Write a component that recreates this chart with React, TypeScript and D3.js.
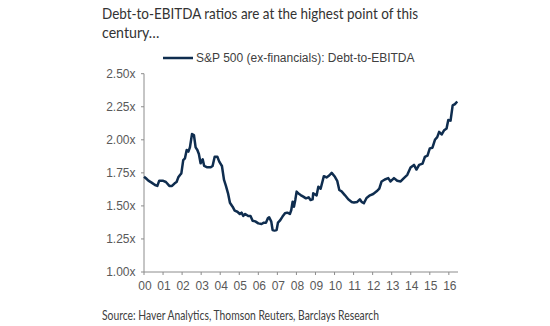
import React from "react";
import * as d3 from "d3";

const titleLines = ["Debt-to-EBITDA ratios are at the highest point of this", "century…"];
const legendLabel = "S&P 500 (ex-financials): Debt-to-EBITDA";
const sourceText = "Source: Haver Analytics, Thomson Reuters, Barclays Research";

const yTicks = [1.0, 1.25, 1.5, 1.75, 2.0, 2.25, 2.5];
const xTickLabels = ["00", "01", "02", "03", "04", "05", "06", "07", "08", "09", "10", "11", "12", "13", "14", "15", "16"];

// years since 2000
const years = [
  0.0, 0.1, 0.23, 0.4, 0.58, 0.7, 0.8, 0.98, 1.15, 1.33, 1.47, 1.61, 1.71, 1.8, 1.89, 1.96,
  2.06, 2.15, 2.24, 2.33, 2.41, 2.52, 2.62, 2.71, 2.8, 2.88, 2.97, 3.08, 3.16, 3.32, 3.5, 3.6,
  3.71, 3.85, 3.95, 4.09, 4.2, 4.3, 4.41, 4.51, 4.65, 4.76, 4.9, 5.03, 5.12, 5.21, 5.31, 5.47,
  5.59, 5.7, 5.84, 6.0, 6.17, 6.29, 6.4, 6.5, 6.57, 6.68, 6.75, 6.85, 6.96, 7.03, 7.13, 7.27,
  7.4, 7.52, 7.66, 7.73, 7.8, 7.87, 7.94, 8.01, 8.09, 8.22, 8.36, 8.5, 8.64, 8.74, 8.85,
  8.88, 9.06, 9.15, 9.27, 9.44, 9.58, 9.72, 9.85, 10.02, 10.14, 10.25, 10.37, 10.55, 10.72,
  10.9, 11.02, 11.19, 11.33, 11.42, 11.54, 11.68, 11.86, 12.03, 12.21, 12.35, 12.47, 12.64,
  12.82, 12.94, 13.12, 13.29, 13.47, 13.64, 13.82, 13.99, 14.17, 14.3, 14.44, 14.62, 14.74,
  14.88, 15.0, 15.14, 15.27, 15.39, 15.49, 15.62, 15.74, 15.88, 15.97, 16.09, 16.2, 16.32, 16.44,
];
const ratios = [
  1.721, 1.709, 1.691, 1.676, 1.658, 1.651, 1.691, 1.691, 1.681, 1.651, 1.651, 1.671, 1.681, 1.716, 1.734, 1.746,
  1.847, 1.86, 1.923, 1.91, 1.943, 2.044, 2.036, 1.943, 1.923, 1.893, 1.822, 1.852, 1.802, 1.792, 1.792, 1.802,
  1.872, 1.872, 1.835, 1.802, 1.696, 1.651, 1.595, 1.524, 1.494, 1.464, 1.456, 1.439, 1.449, 1.424, 1.439, 1.424,
  1.424, 1.388, 1.383, 1.368, 1.363, 1.373, 1.373, 1.406, 1.414, 1.381, 1.318, 1.313, 1.318, 1.373, 1.388, 1.419,
  1.444, 1.449, 1.439, 1.469, 1.532, 1.494, 1.545, 1.608, 1.595, 1.582, 1.57, 1.557, 1.565, 1.545, 1.55,
  1.595, 1.58, 1.645, 1.63, 1.725, 1.715, 1.73, 1.75, 1.72, 1.69, 1.62, 1.61, 1.58, 1.55,
  1.53, 1.525, 1.53, 1.55, 1.53, 1.52, 1.56, 1.58, 1.59, 1.61, 1.63, 1.685, 1.7,
  1.71, 1.685, 1.71, 1.69, 1.685, 1.71, 1.735, 1.79, 1.81, 1.775, 1.81, 1.82, 1.87,
  1.88, 1.935, 1.94, 2.0, 2.02, 2.06, 2.04, 2.07, 2.085, 2.15, 2.145, 2.26, 2.27, 2.29,
];

const LINE = "#0f2d4f";
const AXIS = "#8c8c8c";
const LABEL = "#595959";

export default function App() {
  const x = d3.scaleLinear().domain([0, 16.48]).range([144, 458]);
  const y = d3.scaleLinear().domain([1, 2.5]).range([272, 73.7]);
  const pts: [number, number][] = years.map((yr, i) => [yr, ratios[i]]);
  const line = d3
    .line<[number, number]>()
    .x((d) => x(d[0]))
    .y((d) => y(d[1]));

  return (
    <svg
      width={550}
      height={326}
      style={{ position: "absolute", left: 0, top: 0, background: "#fff" }}
    >
      <text x={102} y={18.5} fontFamily="Lato, sans-serif" fontSize={15} fill="#333"
        textLength={316} lengthAdjust="spacingAndGlyphs">{titleLines[0]}</text>
      <text x={102} y={37.5} fontFamily="Lato, sans-serif" fontSize={15} fill="#333"
        textLength={57.5} lengthAdjust="spacingAndGlyphs">{titleLines[1]}</text>

      <line x1={163} x2={193} y1={58} y2={58} stroke={LINE} strokeWidth={2.5} />
      <text x={196} y={62.3} fontFamily="'Liberation Sans', Arial, sans-serif" fontSize={12} fill="#404040">
        {legendLabel}
      </text>

      {/* y axis */}
      <line x1={144} x2={144} y1={y(2.5)} y2={y(1)} stroke={AXIS} strokeWidth={1} />
      {yTicks.map((t) => (
        <g key={t}>
          <line x1={141} x2={144} y1={y(t)} y2={y(t)} stroke={AXIS} strokeWidth={1} />
          <text x={135.5} y={y(t) + 4.2} textAnchor="end" fontFamily="'Liberation Sans', Arial, sans-serif"
            fontSize={12} fill={LABEL}>{t.toFixed(2) + "x"}</text>
        </g>
      ))}

      {/* x axis */}
      <line x1={144} x2={458} y1={272} y2={272} stroke={AXIS} strokeWidth={1} />
      {xTickLabels.map((lab, i) => (
        <g key={lab}>
          <line x1={x(i)} x2={x(i)} y1={272} y2={275} stroke={AXIS} strokeWidth={1} />
          <text x={x(i) + 1} y={290} textAnchor="middle" fontFamily="'Liberation Sans', Arial, sans-serif"
            fontSize={12} fill={LABEL}>{lab}</text>
        </g>
      ))}

      <path d={line(pts) || ""} fill="none" stroke={LINE} strokeWidth={2.5} strokeLinejoin="round" />

      <text x={102} y={319.5} fontFamily="Lato, sans-serif" fontSize={12.5} fill="#404040"
        textLength={277} lengthAdjust="spacingAndGlyphs">{sourceText}</text>
    </svg>
  );
}
